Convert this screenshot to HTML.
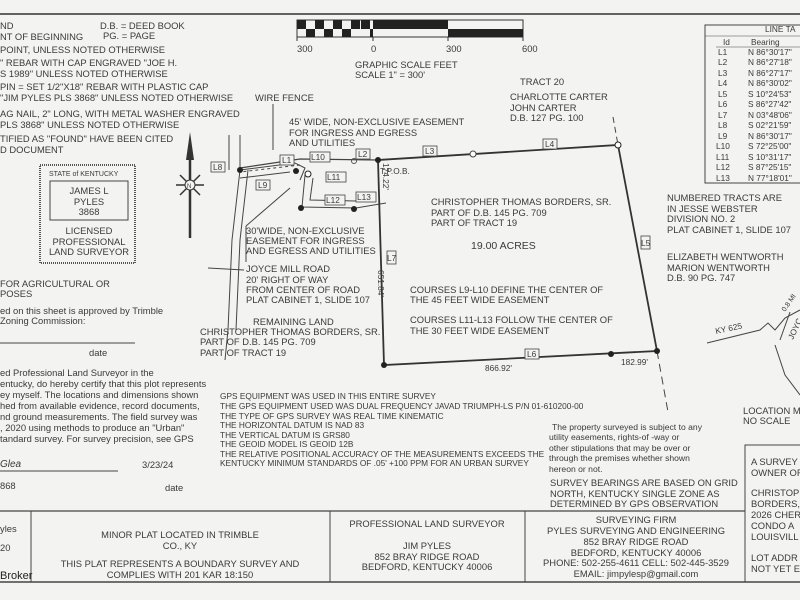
<!DOCTYPE html>
<html><head><style>
html,body{margin:0;padding:0;background:#f3f3f1;}
svg{display:block;font-family:"Liberation Sans",Arial,sans-serif;fill:#333;}
text{font-size:9.4px;fill:#3a3a3a;}
text.s{font-size:8.3px;}
</style></head><body>
<svg width="800" height="600" viewBox="0 0 800 600">
<rect width="800" height="600" fill="#f3f3f1"/>
<line x1="0" y1="14" x2="800" y2="14" stroke="#333" stroke-width="1.5"/>
<text x="0" y="29">ND</text>
<text x="100" y="29">D.B. = DEED BOOK</text>
<text x="0" y="40">NT OF BEGINNING</text>
<text x="103" y="39">PG. = PAGE</text>
<text x="0" y="53">POINT, UNLESS NOTED OTHERWISE</text>
<text x="0" y="66">" REBAR WITH CAP ENGRAVED "JOE H.</text>
<text x="0" y="77">S 1989" UNLESS NOTED OTHERWISE</text>
<text x="0" y="90">PIN = SET 1/2"X18" REBAR WITH PLASTIC CAP</text>
<text x="0" y="101">"JIM PYLES PLS 3868"  UNLESS NOTED OTHERWISE</text>
<text x="0" y="117">AG NAIL, 2" LONG, WITH METAL WASHER ENGRAVED</text>
<text x="0" y="128">PLS 3868" UNLESS NOTED OTHERWISE</text>
<text x="0" y="142">TIFIED AS "FOUND" HAVE BEEN CITED</text>
<text x="0" y="153">D DOCUMENT</text>
<rect x="40" y="165" width="95" height="98" fill="none" stroke="#555" stroke-width="2" stroke-dasharray="1 1"/>
<text x="49" y="176" style="font-size:7px">STATE of KENTUCKY</text>
<rect x="50" y="181" width="78" height="39" fill="none" stroke="#444"/>
<text x="89" y="194" text-anchor="middle">JAMES L</text>
<text x="89" y="205" text-anchor="middle">PYLES</text>
<text x="89" y="215" text-anchor="middle">3868</text>
<text x="89" y="234" text-anchor="middle">LICENSED</text>
<text x="89" y="245" text-anchor="middle">PROFESSIONAL</text>
<text x="89" y="255" text-anchor="middle">LAND SURVEYOR</text>
<text x="0" y="287">FOR AGRICULTURAL OR</text>
<text x="0" y="297">POSES</text>
<text x="0" y="314">ed on this sheet is approved by Trimble</text>
<text x="0" y="324">Zoning Commission:</text>
<line x1="0" y1="343" x2="135" y2="343" stroke="#444"/>
<text x="89" y="356">date</text>
<text x="0" y="376">ed Professional Land Surveyor in the</text>
<text x="0" y="387">entucky, do hereby certify that this plot represents</text>
<text x="0" y="398">ey myself.  The locations and dimensions shown</text>
<text x="0" y="409">hed from available evidence, record documents,</text>
<text x="0" y="420">nd ground measurements.  The field survey was</text>
<text x="0" y="431">, 2020 using methods to produce an "Urban"</text>
<text x="0" y="442">tandard survey.  For survey precision, see GPS</text>
<text x="0" y="467" style="font-style:italic;font-size:10px">Glea</text>
<line x1="0" y1="471" x2="118" y2="471" stroke="#444"/>
<text x="142" y="468">3/23/24</text>
<text x="0" y="489">868</text>
<text x="165" y="491">date</text>
<g transform="translate(297,8)">
<rect x="0" y="12" width="226" height="17" fill="none" stroke="#333"/>
<g fill="#222">
<rect x="0" y="12" width="9" height="9"/><rect x="18" y="12" width="9" height="9"/><rect x="36" y="12" width="9" height="9"/><rect x="54" y="12" width="9" height="9"/><rect x="64" y="12" width="9" height="9"/>
<rect x="9" y="21" width="9" height="8"/><rect x="27" y="21" width="9" height="8"/><rect x="45" y="21" width="9" height="8"/><rect x="73" y="21" width="3" height="8"/>
<rect x="76" y="12" width="75" height="9"/><rect x="151" y="21" width="75" height="8"/>
</g>
<line x1="0" y1="29" x2="0" y2="33" stroke="#333"/><line x1="76" y1="29" x2="76" y2="33" stroke="#333"/><line x1="151" y1="29" x2="151" y2="33" stroke="#333"/><line x1="226" y1="29" x2="226" y2="33" stroke="#333"/>
</g>
<text x="297" y="52">300</text><text x="371" y="52">0</text><text x="446" y="52">300</text><text x="522" y="52">600</text>
<text x="355" y="68">GRAPHIC SCALE FEET</text>
<text x="355" y="78">SCALE 1" = 300'</text>
<rect x="705" y="25" width="100" height="158" fill="none" stroke="#444"/>
<line x1="705" y1="36" x2="800" y2="36" stroke="#444" stroke-width="0.5"/>
<text class="s" x="765" y="32">LINE TA</text>
<text class="s" x="723" y="45">Id</text><text class="s" x="751" y="45">Bearing</text>
<line x1="716" y1="47" x2="800" y2="47" stroke="#444" stroke-width="0.5"/>
<text class="s" x="718" y="55">L1</text><text class="s" x="748" y="55">N 86°30'17"</text>
<text class="s" x="718" y="65">L2</text><text class="s" x="748" y="65">N 86°27'18"</text>
<text class="s" x="718" y="76">L3</text><text class="s" x="748" y="76">N 86°27'17"</text>
<text class="s" x="718" y="86">L4</text><text class="s" x="748" y="86">N 86°30'02"</text>
<text class="s" x="718" y="97">L5</text><text class="s" x="748" y="97">S 10°24'53"</text>
<text class="s" x="718" y="107">L6</text><text class="s" x="748" y="107">S 86°27'42"</text>
<text class="s" x="718" y="118">L7</text><text class="s" x="748" y="118">N 03°48'06"</text>
<text class="s" x="718" y="128">L8</text><text class="s" x="748" y="128">S 02°21'59"</text>
<text class="s" x="718" y="139">L9</text><text class="s" x="748" y="139">N 86°30'17"</text>
<text class="s" x="716" y="149">L10</text><text class="s" x="748" y="149">S 72°25'00"</text>
<text class="s" x="716" y="160">L11</text><text class="s" x="748" y="160">S 10°31'17"</text>
<text class="s" x="716" y="170">L12</text><text class="s" x="748" y="170">S 87°25'15"</text>
<text class="s" x="716" y="181">L13</text><text class="s" x="748" y="181">N 77°18'01"</text>
<polygon points="190,132 186,160 194,160" fill="#333"/>
<line x1="190" y1="160" x2="190" y2="238" stroke="#333" stroke-width="2.5"/>
<g stroke="#333" stroke-width="1.5"><line x1="176" y1="185" x2="204" y2="185"/><line x1="180" y1="175" x2="200" y2="195"/><line x1="200" y1="175" x2="180" y2="195"/></g>
<circle cx="190" cy="185" r="5" fill="#f3f3f1" stroke="#333"/>
<text x="187" y="188" style="font-size:6px">N</text>
<text x="255" y="101">WIRE FENCE</text>
<line x1="273" y1="104" x2="273" y2="150" stroke="#444"/>
<text x="289" y="125">45' WIDE, NON-EXCLUSIVE EASEMENT</text>
<text x="289" y="136">FOR INGRESS AND EGRESS</text>
<text x="289" y="146">AND UTILITIES</text>
<text x="520" y="85">TRACT 20</text>
<text x="510" y="100">CHARLOTTE CARTER</text>
<text x="510" y="111">JOHN CARTER</text>
<text x="510" y="121">D.B. 127 PG. 100</text>
<g fill="none" stroke="#444" stroke-width="1">
<line x1="229" y1="135" x2="229" y2="170"/><line x1="240" y1="135" x2="240" y2="170"/>
<path d="M240,170 L232,240 L228,330 L225,360"/>
<path d="M248,170 L240,240 L236,330"/>
<path d="M240,170 L295,163 L305,168 L300,180 M240,178 L290,172"/>
<path d="M305,175 L302,207 L356,208 L386,203 M313,178 L310,200 L356,201"/>
<path d="M300,165 L240,172" stroke-dasharray="3 3"/>
</g>
<polyline points="240,168 300,159 378,160" fill="none" stroke="#444" stroke-width="1.2"/>
<circle cx="240" cy="170" r="3" fill="#222"/><circle cx="296" cy="171" r="3" fill="#222"/><circle cx="301" cy="208" r="3" fill="#222"/><circle cx="354" cy="209" r="3" fill="#222"/><circle cx="308" cy="174" r="3" fill="#fff" stroke="#222"/>
<circle cx="354" cy="161" r="2.5" fill="none" stroke="#555"/>
<polyline points="378,160 618,145 657,351 384,365 378,160" stroke="#333" stroke-width="1.8" fill="none"/>
<line x1="613" y1="117" x2="618" y2="145" stroke="#444" stroke-dasharray="6 4"/>
<line x1="657" y1="351" x2="668" y2="412" stroke="#444" stroke-dasharray="8 5"/>
<circle cx="378" cy="160" r="3" fill="#222"/><circle cx="618" cy="145" r="3" fill="#fff" stroke="#222"/><circle cx="473" cy="154" r="3" fill="#fff" stroke="#444"/><circle cx="657" cy="351" r="3" fill="#222"/><circle cx="611" cy="354" r="3" fill="#222"/><circle cx="384" cy="365" r="3" fill="#222"/>
<g fill="#f3f3f1" stroke="#444" stroke-width="0.8">
<rect x="211" y="162" width="14" height="10"/><rect x="280" y="155" width="14" height="10"/><rect x="310" y="152" width="20" height="10"/><rect x="356" y="149" width="14" height="10"/><rect x="423" y="146" width="14" height="10"/><rect x="543" y="139" width="14" height="10"/><rect x="326" y="172" width="20" height="10"/><rect x="325" y="195" width="20" height="10"/><rect x="356" y="192" width="20" height="10"/><rect x="256" y="180" width="14" height="10"/><rect x="387" y="251" width="9" height="13"/><rect x="641" y="236" width="9" height="13"/><rect x="525" y="349" width="14" height="10"/>
</g>
<text class="s" x="213" y="170">L8</text><text class="s" x="282" y="163">L1</text><text class="s" x="311" y="160">L10</text><text class="s" x="358" y="157">L2</text><text class="s" x="425" y="154">L3</text><text class="s" x="545" y="147">L4</text><text class="s" x="327" y="180">L11</text><text class="s" x="326" y="203">L12</text><text class="s" x="357" y="200">L13</text><text class="s" x="258" y="188">L9</text><text class="s" x="387" y="261">L7</text><text class="s" x="641" y="246">L5</text><text class="s" x="527" y="357">L6</text>
<text class="s" x="380" y="174">T.P.O.B.</text>
<text class="s" transform="translate(383,163) rotate(90)">174.22'</text>
<text class="s" transform="translate(378,270) rotate(90)">651.84'</text>
<text class="s" x="485" y="371">866.92'</text>
<text class="s" x="621" y="365">182.99'</text>
<text x="246" y="234">30'WIDE, NON-EXCLUSIVE</text>
<text x="246" y="244">EASEMENT FOR INGRESS</text>
<text x="246" y="254">AND EGRESS AND UTILITIES</text>
<line x1="246" y1="226" x2="246" y2="262" stroke="#444"/><line x1="246" y1="226" x2="290" y2="188" stroke="#444"/>
<text x="246" y="272">JOYCE MILL ROAD</text>
<text x="246" y="283">20' RIGHT OF WAY</text>
<text x="246" y="293">FROM CENTER OF ROAD</text>
<text x="246" y="303">PLAT CABINET 1, SLIDE 107</text>
<line x1="208" y1="268" x2="244" y2="270" stroke="#444"/>
<text x="253" y="325">REMAINING LAND</text>
<text x="200" y="335">CHRISTOPHER THOMAS BORDERS, SR.</text>
<text x="200" y="345">PART OF D.B. 145 PG. 709</text>
<text x="200" y="356">PART OF TRACT 19</text>
<text x="431" y="205">CHRISTOPHER THOMAS BORDERS, SR.</text>
<text x="431" y="216">PART OF D.B. 145 PG. 709</text>
<text x="431" y="226">PART OF TRACT 19</text>
<text x="471" y="249" style="font-size:10.5px">19.00 ACRES</text>
<text x="410" y="293">COURSES L9-L10 DEFINE THE CENTER OF</text>
<text x="410" y="303">THE 45 FEET WIDE EASEMENT</text>
<text x="410" y="323">COURSES L11-L13 FOLLOW THE CENTER OF</text>
<text x="410" y="334">THE 30 FEET WIDE EASEMENT</text>
<text x="667" y="201">NUMBERED TRACTS ARE</text>
<text x="667" y="212">IN JESSE WEBSTER</text>
<text x="667" y="222">DIVISION NO. 2</text>
<text x="667" y="233">PLAT CABINET 1, SLIDE 107</text>
<text x="667" y="260">ELIZABETH WENTWORTH</text>
<text x="667" y="271">MARION WENTWORTH</text>
<text x="667" y="281">D.B. 90 PG. 747</text>
<polyline points="707,343 760,330 768,323 775,330 785,318 800,310" fill="none" stroke="#444"/>
<polyline points="775,345 785,375 800,395" fill="none" stroke="#444"/>
<polyline points="790,312 780,340" fill="none" stroke="#444"/>
<text class="s" transform="translate(716,334) rotate(-12)">KY 625</text>
<text transform="translate(785,312) rotate(-55)" style="font-size:7px">0.8 MI</text>
<text class="s" transform="translate(793,340) rotate(-65)">JOYC</text>
<text x="743" y="414">LOCATION M</text>
<text x="743" y="424">NO SCALE</text>
<text class="s" x="220" y="399">GPS EQUIPMENT WAS USED IN THIS ENTIRE SURVEY</text>
<text class="s" x="220" y="409">THE GPS EQUIPMENT USED WAS DUAL FREQUENCY JAVAD TRIUMPH-LS P/N 01-610200-00</text>
<text class="s" x="220" y="419">THE TYPE OF GPS SURVEY WAS  REAL TIME KINEMATIC</text>
<text class="s" x="220" y="428">THE HORIZONTAL DATUM IS NAD 83</text>
<text class="s" x="220" y="438">THE VERTICAL DATUM IS GRS80</text>
<text class="s" x="220" y="447">THE GEOID MODEL IS GEOID 12B</text>
<text class="s" x="220" y="457">THE RELATIVE POSITIONAL ACCURACY OF THE MEASUREMENTS EXCEEDS THE</text>
<text class="s" x="220" y="466">KENTUCKY MINIMUM STANDARDS OF .05' +100 PPM FOR AN URBAN SURVEY</text>
<text x="552" y="430" style="font-size:8.6px">The property surveyed is subject to any</text>
<text x="549" y="440" style="font-size:8.6px">utility easements, rights-of -way or</text>
<text x="549" y="451" style="font-size:8.6px">other stipulations that may be over or</text>
<text x="549" y="461" style="font-size:8.6px">through the premises whether shown</text>
<text x="549" y="472" style="font-size:8.6px">hereon or not.</text>
<text x="550" y="486">SURVEY BEARINGS ARE BASED ON GRID</text>
<text x="550" y="497">NORTH, KENTUCKY SINGLE ZONE AS</text>
<text x="550" y="507">DETERMINED BY GPS OBSERVATION</text>
<polyline points="745,512 745,445 800,445" fill="none" stroke="#444"/>
<text x="751" y="465">A SURVEY</text><text x="751" y="476">OWNER OF</text>
<text x="751" y="496">CHRISTOP</text><text x="751" y="507">BORDERS,</text><text x="751" y="518">2026 CHER</text><text x="751" y="529">CONDO A</text><text x="751" y="540">LOUISVILL</text>
<text x="751" y="561">LOT ADDR</text><text x="751" y="572">NOT YET E</text>
<line x1="0" y1="511" x2="745" y2="511" stroke="#444" stroke-width="1.2"/>
<line x1="0" y1="582" x2="800" y2="582" stroke="#444" stroke-width="1.5"/>
<line x1="31" y1="511" x2="31" y2="582" stroke="#444"/>
<line x1="330" y1="511" x2="330" y2="582" stroke="#444"/>
<line x1="525" y1="511" x2="525" y2="582" stroke="#444"/>
<line x1="745" y1="511" x2="745" y2="582" stroke="#444"/>
<text x="0" y="532">yles</text><text x="0" y="551">20</text>
<text x="0" y="579" style="font-size:11px;fill:#222">Broker</text>
<text x="180" y="538" text-anchor="middle">MINOR PLAT LOCATED IN  TRIMBLE</text>
<text x="180" y="549" text-anchor="middle">CO., KY</text>
<text x="180" y="567" text-anchor="middle">THIS PLAT REPRESENTS A BOUNDARY SURVEY AND</text>
<text x="180" y="578" text-anchor="middle">COMPLIES WITH 201 KAR 18:150</text>
<text x="427" y="527" text-anchor="middle">PROFESSIONAL LAND SURVEYOR</text>
<text x="427" y="549" text-anchor="middle">JIM PYLES</text>
<text x="427" y="560" text-anchor="middle">852 BRAY RIDGE ROAD</text>
<text x="427" y="570" text-anchor="middle">BEDFORD, KENTUCKY 40006</text>
<text x="636" y="523" text-anchor="middle">SURVEYING FIRM</text>
<text x="636" y="534" text-anchor="middle">PYLES SURVEYING AND ENGINEERING</text>
<text x="636" y="545" text-anchor="middle">852 BRAY RIDGE ROAD</text>
<text x="636" y="556" text-anchor="middle">BEDFORD, KENTUCKY 40006</text>
<text x="636" y="566" text-anchor="middle">PHONE: 502-255-4611   CELL: 502-445-3529</text>
<text x="636" y="577" text-anchor="middle">EMAIL: jimpylesp@gmail.com</text>
</svg>
</body></html>
